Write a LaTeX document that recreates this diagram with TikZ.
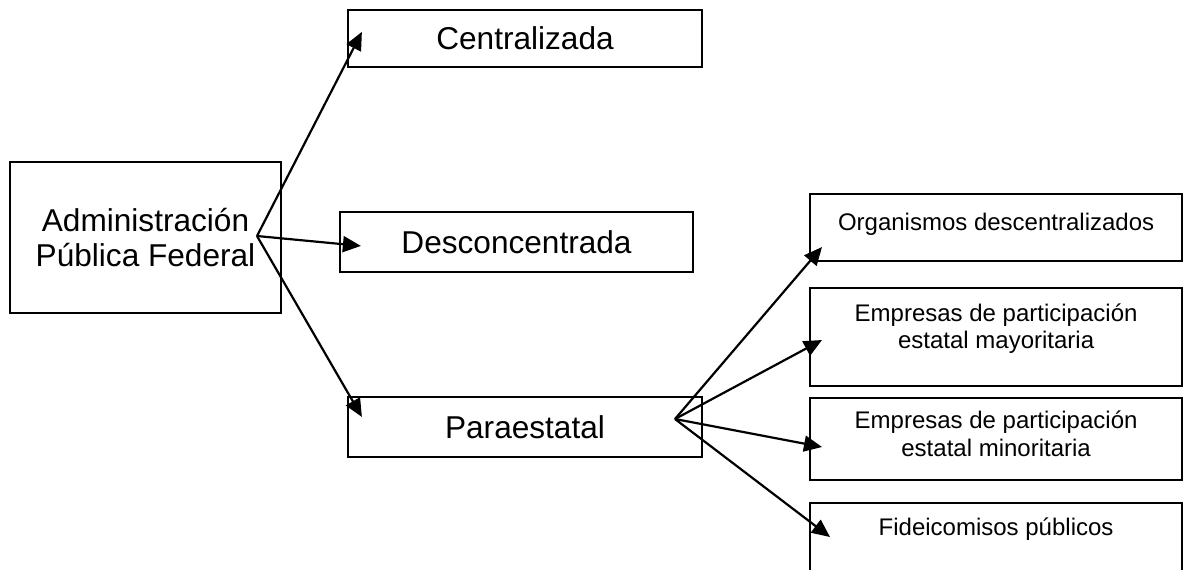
\documentclass[tikz,border=0pt]{standalone}
\usepackage{fontspec}
\setmainfont{Liberation Sans}
\usetikzlibrary{arrows.meta, positioning}

\begin{document}
\begin{tikzpicture}[
  x=0.5pt, y=-0.5pt,
  bigbox/.style={draw, line width=1.1pt, inner sep=0pt, align=center, font=\fontsize{15.8}{17.5}\selectfont},
  subbox/.style={draw, line width=1.1pt, anchor=north west, minimum width=186pt, inner sep=0pt},
  subtext/.style={align=center, inner sep=0pt, font=\fontsize{12}{13.8}\selectfont},
  branch/.style={line width=1.1pt, -{Triangle[length=9pt, width=8pt]}}
]
  \useasboundingbox (0,0) rectangle (1183,569);

  % Main box
  \node[bigbox, minimum width=135.5pt, minimum height=75.5pt] (apf) at (145.5,237.5) {Administración\\Pública Federal};

  % Three forms
  \node[bigbox, minimum width=177pt, minimum height=28.5pt] (cen) at (525,38.5) {Centralizada};
  \node[bigbox, minimum width=176.5pt, minimum height=30pt] (des) at (516.5,242) {Desconcentrada};
  \node[bigbox, minimum width=177pt, minimum height=30pt] (par) at (525,427) {Paraestatal};

  % Paraestatal entities
  \node[subbox, minimum height=33.5pt] (org) at (809,193) {};
  \node[subtext, below=10pt of org.north] (orgtext) {Organismos descentralizados};

  \node[subbox, minimum height=49pt] (may) at (809,287) {};
  \node[subtext, below=8.1pt of may.north] (maytext) {Empresas de participación\\estatal mayoritaria};

  \node[subbox, minimum height=41pt] (min) at (809,397) {};
  \node[subtext, below=6.75pt of min.north] (mintext) {Empresas de participación\\estatal minoritaria};

  \node[subbox, minimum height=40pt] (fid) at (809,502) {};
  \node[subtext, below=7.75pt of fid.north] (fidtext) {Fideicomisos públicos};

  % Arrows
  \coordinate (apfout) at (257,236);
  \coordinate (parout) at (675,419);
  \foreach \dest/\dx/\dy in {cen/15/23, des/22/35, par/15/21}
    \draw[branch] (apfout) -- ([shift={(\dx,\dy)}]\dest.north west);
  \foreach \dest/\dx/\dy in {org/13/54, may/13/53, min/13/50, fid/21/35}
    \draw[branch] (parout) -- ([shift={(\dx,\dy)}]\dest.north west);
\end{tikzpicture}
\end{document}
